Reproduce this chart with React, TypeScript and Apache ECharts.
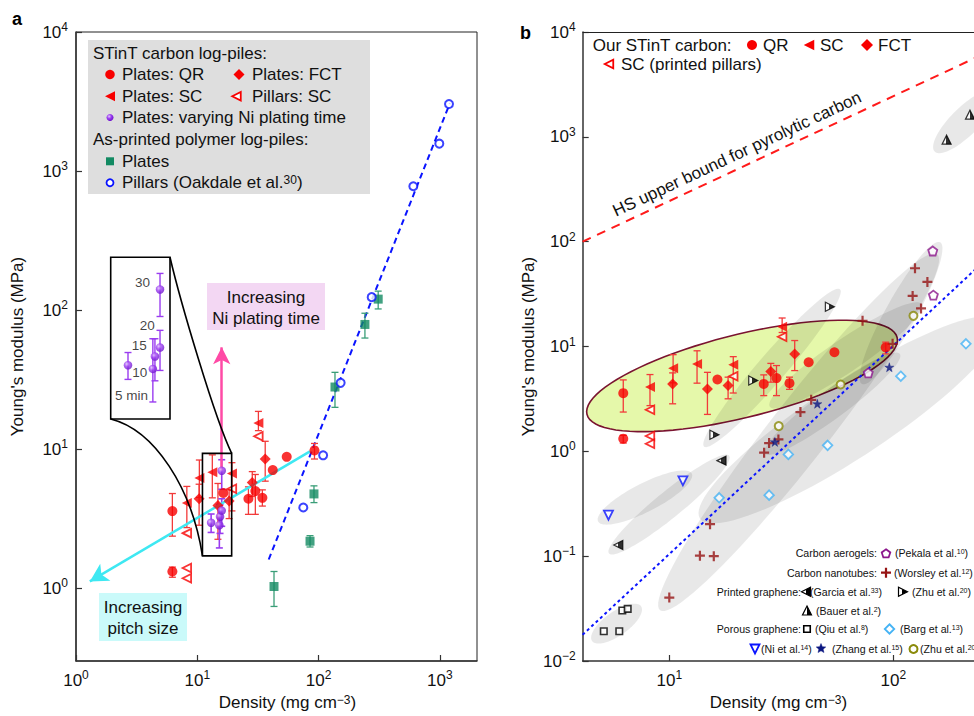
import React, { useEffect, useRef } from 'react';
import * as echarts from 'echarts';

// ---------------- data (density in mg cm^-3, modulus in MPa) ----------------
// STinT carbon log-piles (shown in both panels)
const QR_DENSITY = [6.23, 6.23, 16.4, 26.4, 30.1, 34.4, 41.9, 54.6, 92.5];
const QR_MODULUS = [3.59, 1.32, 4.84, 4.4, 5.0, 4.47, 7.08, 8.81, 9.8];
const QR_ERR_LOW = [2.37, 1.2, null, 3.4, 3.4, 3.9, null, null, 8.5];
const QR_ERR_HIGH = [4.8, 1.42, null, 5.36, 6.58, 5.1, null, null, 11.0];

const SC_DENSITY = [8.2, 10.4, 13.3, 19.3, 31.9];
const SC_MODULUS = [4.1, 6.2, 6.82, 6.7, 15.4];
const SC_ERR_LOW = [2.73, 4.5, 4.47, 3.6, 13.6];
const SC_ERR_HIGH = [5.4, 8.36, 9.1, 8.0, 18.7];

const FCT_DENSITY = [10.35, 14.8, 18.3, 28.4, 36.3];
const FCT_MODULUS = [4.4, 3.94, 4.24, 5.76, 8.49];
const FCT_ERR_LOW = [2.84, 2.25, 3.17, 4.57, 5.89];
const FCT_ERR_HIGH = [5.6, 5.67, 5.1, 6.9, 11.4];

const PILLAR_SC_DENSITY = [8.2, 8.2, 8.2, 19.3, 31.9];
const PILLAR_SC_MODULUS = [2.49, 1.4, 1.18, 5.2, 12.4];

const NI_TIME_LABELS = ['5 min', '10', '15', '20', '30'];
const NI_DENSITY = [13.0, 15.2, 15.4, 15.9, 15.9];
const NI_MODULUS = [2.96, 2.84, 3.27, 3.62, 7.0];
const NI_ERR_LOW = [2.52, 1.95, 2.48, 2.79, 5.15];
const NI_ERR_HIGH = [3.42, 4.0, 4.0, 4.4, 8.4];

// As-printed polymer log-piles
const POLY_PLATE_DENSITY = [42.9, 85, 91.6, 136.5, 241, 310];
const POLY_PLATE_MODULUS = [1.03, 2.18, 4.77, 28.0, 78.9, 120];
const POLY_PLATE_ERR_LOW = [0.74, 1.98, 4.13, 20, 63, 102];
const POLY_PLATE_ERR_HIGH = [1.32, 2.39, 5.45, 35.7, 95, 137];

const OAKDALE_DENSITY = [74.8, 109, 152, 274, 604, 989, 1189];
const OAKDALE_MODULUS = [3.81, 9.04, 30, 124, 778, 1574, 3034];
const OAKDALE_FIT_DENSITY = [38.8, 1211];
const OAKDALE_FIT_MODULUS = [1.61, 3083];

// annotation arrows (panel a)
const PITCH_ARROW_DENSITY = [84.9, 1.3];
const PITCH_ARROW_MODULUS = [9.64, 1.12];
const NI_ARROW_DENSITY = [15.9, 15.9];
const NI_ARROW_MODULUS = [7.0, 54];

// zoomed window (panel a) and inset ranges
const ZOOM_BOX_DENSITY = [11.03, 19.2];
const ZOOM_BOX_MODULUS = [1.71, 9.33];
const INSET_DENSITY_RANGE = [11.66, 16.93];
const INSET_MODULUS_RANGE = [1.607, 10.09];

// Panel b literature data
const PEKALA_DENSITY = [77.3, 151, 150];
const PEKALA_MODULUS = [5.6, 30.9, 81.5];
const WORSLEY_DENSITY = [10, 13.7, 15.8, 15.2, 26.5, 27.9, 30.7, 38.5, 43, 72.9, 99.3, 122, 133, 142, 125];
const WORSLEY_MODULUS = [0.0403, 0.101, 0.1, 0.202, 0.97, 1.2, 1.3, 2.37, 3.1, 17.6, 10.6, 30.4, 23.1, 41.3, 55.8];
const GARCIA_DENSITY = [5.92, 17.1];
const GARCIA_MODULUS = [0.128, 0.815];
const ZHU_PRINTED_DENSITY = [15.9, 23.7, 52.1];
const ZHU_PRINTED_MODULUS = [1.44, 4.73, 23.9];
const BAUER_DENSITY = [173, 220];
const BAUER_MODULUS = [940, 1626];
const QIU_DENSITY = [5.1, 5.98, 6.17, 6.52];
const QIU_MODULUS = [0.0192, 0.0192, 0.0303, 0.0314];
const BARG_DENSITY = [16.7, 27.9, 34, 50.9, 108, 211];
const BARG_MODULUS = [0.36, 0.382, 0.935, 1.14, 5.21, 10.6];
const NI_REF_DENSITY = [5.35, 11.5];
const NI_REF_MODULUS = [0.246, 0.523];
const ZHANG_DENSITY = [29.6, 45.8, 96];
const ZHANG_MODULUS = [1.23, 2.84, 6.34];
const ZHU_POROUS_DENSITY = [30.8, 58.2, 123];
const ZHU_POROUS_MODULUS = [1.74, 4.34, 19.6];

// Hashin-Shtrikman bound and E ~ rho^2 guide line (endpoints)
const HS_DENSITY = [4.1, 400];
const HS_MODULUS = [100, 9760];
const SCALING_DENSITY = [4.1, 400];
const SCALING_MODULUS = [0.0178, 160];

// shaded regions of panel b: major-axis end points and width ratio
const REGION_FROM_DENSITY = [4.52, 4.81, 5.38, 14.3, 9.09, 13.7, 72.4, 28.1, 26.7, 153];
const REGION_FROM_MODULUS = [0.0155, 0.214, 0.106, 1.108, 0.0305, 0.229, 4.4, 2.66, 0.95, 723];
const REGION_TO_DENSITY = [7.48, 12.6, 18.5, 57.8, 157, 299, 162, 134, 107, 284];
const REGION_TO_MODULUS = [0.0333, 0.614, 0.91, 35.2, 75.9, 17.5, 98.6, 25.4, 8.5, 2692];
const REGION_WIDTH = [0.4, 0.27, 0.17, 0.135, 0.13, 0.21, 0.19, 0.18, 0.17, 0.33];
const STINT_REGION_DENSITY = [4.29, 104];
const STINT_REGION_MODULUS = [2.25, 12.2];
const STINT_REGION_WIDTH = [0.26];

// axis ticks (log10 exponents)
const A_X_TICKS = [0, 1, 2, 3];
const A_Y_TICKS = [0, 1, 2, 3, 4];
const B_X_TICKS = [1, 2];
const B_Y_TICKS = [-2, -1, 0, 1, 2, 3, 4];

// ---------------- styling ----------------
const FONT = '"Liberation Sans", Arial, Helvetica, sans-serif';
const RED = '#f80000';
const RED_ERR = '#f23a3a';
const GREEN = '#128a62';
const BLUE = '#0a14ff';
const CNT_RED = '#961414';
const NAVY = '#0b1680';
const OLIVE = '#8a8a0a';
const LIGHTBLUE = '#45b3f5';
const PEKALA_C = '#8c168c';

const lg = (v: number) => Math.log10(v);
const pts = (D: number[], E: number[]) => D.map((d, i) => [lg(d), lg(E[i])]);

const SYM: any = {
  triLeft: 'path://M0,5L10,0L10,10Z',
  triRight: 'path://M10,5L0,0L0,10Z',
  triDown: 'path://M0,0L10,0L5,10Z',
  triUp: 'path://M5,0L10,10L0,10Z',
  pentagon: 'path://M5,0L10,3.8L8.1,10L1.9,10L0,3.8Z',
  star: 'path://M5,0L6.2,3.6L10,3.6L6.9,5.8L8.1,9.5L5,7.3L1.9,9.5L3.1,5.8L0,3.6L3.8,3.6Z',
  cross: 'path://M3.9,0H6.1V3.9H10V6.1H6.1V10H3.9V6.1H0V3.9H3.9Z',
};

const halfFill = (split: number) =>
  new echarts.graphic.LinearGradient(0, 0, 1, 0, [
    { offset: 0, color: '#ffffff' },
    { offset: split, color: '#ffffff' },
    { offset: split, color: '#000000' },
    { offset: 1, color: '#000000' },
  ]);

const purpleBall = () =>
  new echarts.graphic.RadialGradient(0.38, 0.35, 0.7, [
    { offset: 0, color: '#e4c4ff' },
    { offset: 0.45, color: '#9a3cf0' },
    { offset: 1, color: '#6a10c8' },
  ]);

const expLabel = (v: number) => {
  const n = Math.round(v);
  return '{b|10}{s|' + (n < 0 ? '\u2212' + -n : String(n)) + '}';
};
const TICK_RICH = {
  b: { fontSize: 17, fontFamily: FONT, color: '#111', lineHeight: 22 },
  s: { fontSize: 12, fontFamily: FONT, color: '#111', verticalAlign: 'top', lineHeight: 14 },
};
const NAME_RICH = {
  s: { fontSize: 12, fontFamily: FONT, color: '#111', verticalAlign: 'top', lineHeight: 12 },
};

function axis(gridIndex: number, min: number, max: number, ticks: number[] | null, extra: any = {}) {
  const show = ticks !== null;
  return {
    type: 'value',
    gridIndex,
    min,
    max,
    show,
    axisLine: { show, onZero: false, lineStyle: { color: '#333', width: 1.5 } },
    axisTick: { show, inside: true, length: 6, customValues: ticks || [], lineStyle: { color: '#333', width: 1.2 } },
    axisLabel: { show, customValues: ticks || [], formatter: expLabel, rich: TICK_RICH, margin: 8 },
    splitLine: { show: false },
    ...extra,
  };
}

function errSeries(D: number[], LO: any[], HI: any[], color: string, axisIdx: number, capW = 7, lw = 1.3, z = 3) {
  const data: any[] = [];
  D.forEach((d, i) => {
    if (LO[i] != null) data.push([lg(d), lg(LO[i]), lg(HI[i])]);
  });
  return {
    type: 'custom',
    xAxisIndex: axisIdx,
    yAxisIndex: axisIdx,
    silent: true,
    z,
    encode: { x: 0, y: [1, 2] },
    data,
    renderItem: (params: any, api: any) => {
      const x = api.value(0);
      const p1 = api.coord([x, api.value(1)]);
      const p2 = api.coord([x, api.value(2)]);
      const style = { stroke: color, lineWidth: lw, fill: null };
      const h = capW / 2;
      return {
        type: 'group',
        children: [
          { type: 'line', shape: { x1: p1[0], y1: p1[1], x2: p2[0], y2: p2[1] }, style },
          { type: 'line', shape: { x1: p1[0] - h, y1: p1[1], x2: p1[0] + h, y2: p1[1] }, style },
          { type: 'line', shape: { x1: p2[0] - h, y1: p2[1], x2: p2[0] + h, y2: p2[1] }, style },
        ],
      };
    },
  };
}

function regionSeries(FD: number[], FE: number[], TD: number[], TE: number[], W: number[], style: any, z: number) {
  return {
    type: 'custom',
    xAxisIndex: 1,
    yAxisIndex: 1,
    silent: true,
    z,
    clip: true,
    encode: { x: [0, 2], y: [1, 3] },
    data: FD.map((d, i) => [lg(d), lg(FE[i]), lg(TD[i]), lg(TE[i]), W[i]]),
    renderItem: (params: any, api: any) => {
      const p1 = api.coord([api.value(0), api.value(1)]);
      const p2 = api.coord([api.value(2), api.value(3)]);
      const cx = (p1[0] + p2[0]) / 2;
      const cy = (p1[1] + p2[1]) / 2;
      const a = Math.hypot(p2[0] - p1[0], p2[1] - p1[1]) / 2;
      const b = a * api.value(4);
      const ang = Math.atan2(p2[1] - p1[1], p2[0] - p1[0]);
      const points: number[][] = [];
      for (let k = 0; k < 90; k++) {
        const t = (2 * Math.PI * k) / 90;
        const ex = a * Math.cos(t);
        const ey = b * Math.sin(t);
        points.push([cx + ex * Math.cos(ang) - ey * Math.sin(ang), cy + ex * Math.sin(ang) + ey * Math.cos(ang)]);
      }
      return { type: 'polygon', shape: { points }, style };
    },
  };
}

function scatter(D: number[], E: number[], axisIdx: number, symbol: string, size: any, itemStyle: any, z = 5, extra: any = {}) {
  return {
    type: 'scatter',
    xAxisIndex: axisIdx,
    yAxisIndex: axisIdx,
    data: pts(D, E),
    symbol,
    symbolSize: size,
    itemStyle,
    silent: true,
    z,
    ...extra,
  };
}

function lineSeries(D: number[], E: number[], axisIdx: number, lineStyle: any, z = 2) {
  return {
    type: 'line',
    xAxisIndex: axisIdx,
    yAxisIndex: axisIdx,
    data: pts(D, E),
    showSymbol: false,
    symbol: 'none',
    silent: true,
    lineStyle,
    z,
  };
}

function arrowSeries(D: number[], E: number[], color: string, width: number, headSize: number[], z = 2) {
  const p = pts(D, E);
  return {
    type: 'line',
    xAxisIndex: 0,
    yAxisIndex: 0,
    data: p,
    showSymbol: false,
    symbol: 'none',
    silent: true,
    lineStyle: { opacity: 0 },
    z,
    markLine: {
      silent: true,
      symbol: ['none', 'arrow'],
      symbolSize: headSize,
      label: { show: false },
      lineStyle: { color, width, type: 'solid' },
      data: [[{ coord: p[0] }, { coord: p[1] }]],
    },
  };
}

// ---------- graphic helpers ----------
function gsym(kind: string, x: number, y: number, s: number, fill: any, stroke: any, lw = 1.5) {
  const h = s / 2;
  const style = { fill, stroke, lineWidth: lw };
  if (kind === 'circle') return { type: 'circle', shape: { cx: x, cy: y, r: h }, style, z: 30 };
  if (kind === 'square') return { type: 'rect', shape: { x: x - h, y: y - h, width: s, height: s }, style, z: 30 };
  let p: number[][] = [];
  if (kind === 'diamond') p = [[x, y - h], [x + h, y], [x, y + h], [x - h, y]];
  if (kind === 'triLeft') p = [[x - h, y], [x + h, y - h], [x + h, y + h]];
  if (kind === 'triRight') p = [[x + h, y], [x - h, y - h], [x - h, y + h]];
  if (kind === 'triUp') p = [[x, y - h], [x + h, y + h], [x - h, y + h]];
  if (kind === 'triDown') p = [[x - h, y - h], [x + h, y - h], [x, y + h]];
  if (kind === 'pentagon' || kind === 'star') {
    const n = kind === 'star' ? 10 : 5;
    for (let k = 0; k < n; k++) {
      const a = -Math.PI / 2 + (2 * Math.PI * k) / n;
      const r = kind === 'star' && k % 2 === 1 ? h * 0.45 : h;
      p.push([x + r * Math.cos(a), y + r * Math.sin(a)]);
    }
  }
  if (kind === 'cross') {
    const t = s * 0.11;
    p = [[x - t, y - h], [x + t, y - h], [x + t, y - t], [x + h, y - t], [x + h, y + t], [x + t, y + t], [x + t, y + h], [x - t, y + h], [x - t, y + t], [x - h, y + t], [x - h, y - t], [x - t, y - t]];
  }
  return { type: 'polygon', shape: { points: p }, style, z: 30 };
}

function gtext(text: string, x: number, y: number, size: number, align = 'left', extra: any = {}) {
  return {
    type: 'text',
    x,
    y,
    z: 31,
    style: {
      text,
      x: 0,
      y: 0,
      fill: '#111',
      font: `${size}px ${FONT}`,
      align,
      verticalAlign: 'middle',
      rich: {
        s: { fontSize: Math.round(size * 0.68), fontFamily: FONT, fill: '#111', verticalAlign: 'top', lineHeight: Math.round(size * 0.7) },
      },
      ...(extra.style || {}),
    },
    ...(extra.el || {}),
  };
}

function staticGraphics() {
  const g: any[] = [];
  // panel letters
  g.push({ type: 'text', x: 12, y: 19, z: 31, style: { text: 'a', font: `bold 18px ${FONT}`, fill: '#000', verticalAlign: 'middle' } });
  g.push({ type: 'text', x: 520, y: 33, z: 31, style: { text: 'b', font: `bold 18px ${FONT}`, fill: '#000', verticalAlign: 'middle' } });
  // top frame line of panel b (its right side lies beyond the picture)
  g.push({ type: 'line', z: 29, shape: { x1: 582.7, y1: 32.5, x2: 974, y2: 32.5 }, style: { stroke: '#222', lineWidth: 1 } });

  // ----- panel a legend -----
  g.push({ type: 'rect', shape: { x: 88, y: 40, width: 282, height: 154 }, style: { fill: '#dedede' }, z: 25 });
  const r = [53.3, 74.5, 96.3, 117.5, 139.5, 161.3, 182.7];
  g.push(gtext('STinT carbon log-piles:', 93, r[0], 17));
  g.push(gsym('circle', 110, r[1], 9.5, RED, null));
  g.push(gtext('Plates: QR', 122, r[1], 17));
  g.push(gsym('diamond', 239, r[1], 11, RED, null));
  g.push(gtext('Plates: FCT', 252, r[1], 17));
  g.push(gsym('triLeft', 110, r[2], 10, RED, null));
  g.push(gtext('Plates: SC', 122, r[2], 17));
  g.push(gsym('triLeft', 236.5, r[2], 8.5, '#fff', RED, 1.8));
  g.push(gtext('Pillars: SC', 252, r[2], 17));
  g.push(gsym('circle', 110, r[3], 7, purpleBall(), null));
  g.push(gtext('Plates: varying Ni plating time', 122, r[3], 17));
  g.push(gtext('As-printed polymer log-piles:', 93, r[4], 17));
  g.push(gsym('square', 110, r[5], 8, GREEN, null));
  g.push(gtext('Plates', 122, r[5], 17));
  g.push(gsym('circle', 110, r[6], 7, '#fff', BLUE, 1.8));
  g.push(gtext('Pillars (Oakdale et al.{s|30})', 122, r[6], 17));

  // ----- panel a annotation boxes -----
  g.push({ type: 'rect', shape: { x: 207, y: 283, width: 118, height: 47 }, style: { fill: '#f3d7f3' }, z: 20 });
  g.push(gtext('Increasing', 266, 297, 17, 'center'));
  g.push(gtext('Ni plating time', 266, 318, 17, 'center'));
  g.push({ type: 'rect', shape: { x: 99, y: 593, width: 88, height: 48 }, style: { fill: '#cafafa' }, z: 20 });
  g.push(gtext('Increasing', 143, 607, 17, 'center'));
  g.push(gtext('pitch size', 143, 628.5, 17, 'center'));

  // ----- panel b top legend -----
  g.push(gtext('Our STinT carbon:', 592.7, 45, 17));
  g.push(gsym('circle', 752, 45, 10, RED, null));
  g.push(gtext('QR', 763, 45, 17));
  g.push(gsym('triLeft', 809, 45, 10.5, RED, null));
  g.push(gtext('SC', 820, 45, 17));
  g.push(gsym('diamond', 867, 45, 12, RED, null));
  g.push(gtext('FCT', 878, 45, 17));
  g.push(gsym('triLeft', 609, 64, 8.5, '#fff', RED, 1.8));
  g.push(gtext('SC (printed pillars)', 621, 64, 17));

  // HS label
  g.push(gtext('HS upper bound for pyrolytic carbon', 737, 154, 17, 'center', { el: { rotation: (25.1 * Math.PI) / 180 } }));

  // ----- panel b bottom-right legend -----
  const fs = 10.6;
  g.push(gtext('Carbon aerogels:', 877, 553.3, fs, 'right'));
  g.push(gsym('pentagon', 886, 553.8, 9, '#fff', PEKALA_C, 1.8));
  g.push(gtext('(Pekala et al.{s|10})', 895, 553.3, fs));
  g.push(gtext('Carbon nanotubes:', 877, 572.7, fs, 'right'));
  g.push(gsym('cross', 886, 572.7, 10, CNT_RED, null));
  g.push(gtext('(Worsley et al.{s|12})', 894, 573, fs));
  g.push(gtext('Printed graphene:', 801, 591.7, fs, 'right'));
  g.push(gsym('triLeft', 806, 591.7, 9, halfFill(0.5), '#000', 1.2));
  g.push(gtext('(Garcia et al.{s|33})', 810, 592, fs));
  g.push(gsym('triRight', 903, 591.7, 9, halfFill(0.35), '#000', 1.2));
  g.push(gtext('(Zhu et al.{s|20})', 912, 592, fs));
  g.push(gsym('triUp', 807, 610.5, 9, halfFill(0.45), '#000', 1.2));
  g.push(gtext('(Bauer et al.{s|2})', 816, 611, fs));
  g.push(gtext('Porous graphene:', 801, 629, fs, 'right'));
  g.push(gsym('square', 807, 629, 6.5, '#fff', '#000', 1.6));
  g.push(gtext('(Qiu et al.{s|8})', 815, 629.3, fs));
  g.push(gsym('diamond', 889.5, 629, 9.5, '#fff', LIGHTBLUE, 1.8));
  g.push(gtext('(Barg et al.{s|13})', 900, 629.3, fs));
  g.push(gsym('triDown', 755, 649, 9, '#fff', BLUE, 1.8));
  g.push(gtext('(Ni et al.{s|14})', 761, 649.3, fs));
  g.push(gsym('star', 821, 648.5, 10, NAVY, NAVY, 0.5));
  g.push(gtext('(Zhang et al.{s|15})', 832, 649.3, fs));
  g.push(gsym('circle', 913.5, 649, 8, '#fff', OLIVE, 2));
  g.push(gtext('(Zhu et al.{s|20})', 920, 649.3, fs));
  return g;
}

const INSET_LABEL_OFFSETS = [[3.6, 30], [-13, 4], [-15.7, -11], [-12.7, -22.3], [-17.5, -6.6]];

function buildOption() {
  const series: any[] = [];
  // ---------- panel a ----------
  series.push(lineSeries(OAKDALE_FIT_DENSITY, OAKDALE_FIT_MODULUS, 0, { color: BLUE, width: 2, type: [6, 4] }));
  series.push(arrowSeries(PITCH_ARROW_DENSITY, PITCH_ARROW_MODULUS, '#3ee8f2', 2.5, [15, 18]));
  series.push(arrowSeries(NI_ARROW_DENSITY, NI_ARROW_MODULUS, '#ff4aa6', 2.5, [13, 17]));
  series.push(errSeries(QR_DENSITY, QR_ERR_LOW, QR_ERR_HIGH, RED_ERR, 0));
  series.push(errSeries(SC_DENSITY, SC_ERR_LOW, SC_ERR_HIGH, RED_ERR, 0));
  series.push(errSeries(FCT_DENSITY, FCT_ERR_LOW, FCT_ERR_HIGH, RED_ERR, 0));
  series.push(errSeries(POLY_PLATE_DENSITY, POLY_PLATE_ERR_LOW, POLY_PLATE_ERR_HIGH, '#3a9e78', 0));
  series.push(scatter(QR_DENSITY, QR_MODULUS, 0, 'circle', 10, { color: RED }));
  series.push(scatter(SC_DENSITY, SC_MODULUS, 0, SYM.triLeft, 10, { color: RED }));
  series.push(scatter(FCT_DENSITY, FCT_MODULUS, 0, 'diamond', 11, { color: RED }));
  series.push(scatter(PILLAR_SC_DENSITY, PILLAR_SC_MODULUS, 0, SYM.triLeft, 8.5, { color: '#fff', borderColor: RED, borderWidth: 1.8 }));
  series.push(scatter(POLY_PLATE_DENSITY, POLY_PLATE_MODULUS, 0, 'rect', 9, { color: GREEN }));
  series.push(scatter(OAKDALE_DENSITY, OAKDALE_MODULUS, 0, 'circle', 8, { color: '#fff', borderColor: BLUE, borderWidth: 2 }));
  series.push(errSeries(NI_DENSITY, NI_ERR_LOW, NI_ERR_HIGH, '#9a3cf0', 0, 7, 1.6));
  series.push(scatter(NI_DENSITY, NI_MODULUS, 0, 'circle', 8.5, { color: purpleBall() }, 6));

  // ---------- inset ----------
  series.push(errSeries(NI_DENSITY, NI_ERR_LOW, NI_ERR_HIGH, '#9a3cf0', 2, 7, 1.4, 7));
  series.push({
    type: 'scatter',
    xAxisIndex: 2,
    yAxisIndex: 2,
    silent: true,
    z: 8,
    symbol: 'circle',
    symbolSize: 8.5,
    itemStyle: { color: purpleBall() },
    data: NI_DENSITY.map((d, i) => ({
      value: [lg(d), lg(NI_MODULUS[i])],
      name: NI_TIME_LABELS[i],
      label: { offset: INSET_LABEL_OFFSETS[i] },
    })),
    label: { show: true, position: 'inside', formatter: '{b}', color: '#111', fontSize: 13.5, fontFamily: FONT, textBorderWidth: 0 },
  });

  // ---------- panel b ----------
  series.push(regionSeries(STINT_REGION_DENSITY.slice(0, 1), STINT_REGION_MODULUS.slice(0, 1), STINT_REGION_DENSITY.slice(1), STINT_REGION_MODULUS.slice(1), STINT_REGION_WIDTH, { fill: '#e5f8aa', stroke: '#7a1430', lineWidth: 1.6 }, 1));
  series.push(regionSeries(REGION_FROM_DENSITY, REGION_FROM_MODULUS, REGION_TO_DENSITY, REGION_TO_MODULUS, REGION_WIDTH, { fill: 'rgba(0,0,0,0.09)' }, 2));
  series.push(lineSeries(HS_DENSITY, HS_MODULUS, 1, { color: '#ff1a1a', width: 2, type: [9, 7] }, 3));
  series.push(lineSeries(SCALING_DENSITY, SCALING_MODULUS, 1, { color: BLUE, width: 2, type: [3, 3] }, 3));
  series.push(errSeries(QR_DENSITY, QR_ERR_LOW, QR_ERR_HIGH, RED_ERR, 1));
  series.push(errSeries(SC_DENSITY, SC_ERR_LOW, SC_ERR_HIGH, RED_ERR, 1));
  series.push(errSeries(FCT_DENSITY, FCT_ERR_LOW, FCT_ERR_HIGH, RED_ERR, 1));
  series.push(scatter(QIU_DENSITY, QIU_MODULUS, 1, 'rect', 6.5, { color: '#fff', borderColor: '#000', borderWidth: 1.6 }));
  series.push(scatter(NI_REF_DENSITY, NI_REF_MODULUS, 1, SYM.triDown, 9, { color: '#fff', borderColor: BLUE, borderWidth: 1.8 }));
  series.push(scatter(GARCIA_DENSITY, GARCIA_MODULUS, 1, SYM.triLeft, 9, { color: halfFill(0.5), borderColor: '#000', borderWidth: 1.2 }));
  series.push(scatter(ZHU_PRINTED_DENSITY, ZHU_PRINTED_MODULUS, 1, SYM.triRight, 9, { color: halfFill(0.35), borderColor: '#000', borderWidth: 1.2 }));
  series.push(scatter(BAUER_DENSITY, BAUER_MODULUS, 1, SYM.triUp, 9, { color: halfFill(0.45), borderColor: '#000', borderWidth: 1.2 }));
  series.push(scatter(BARG_DENSITY, BARG_MODULUS, 1, 'diamond', 9.5, { color: '#fff', borderColor: LIGHTBLUE, borderWidth: 1.8 }));
  series.push(scatter(WORSLEY_DENSITY, WORSLEY_MODULUS, 1, SYM.cross, 10, { color: CNT_RED }));
  series.push(scatter(ZHU_POROUS_DENSITY, ZHU_POROUS_MODULUS, 1, 'circle', 8, { color: '#fff', borderColor: OLIVE, borderWidth: 2 }));
  series.push(scatter(ZHANG_DENSITY, ZHANG_MODULUS, 1, SYM.star, 9, { color: NAVY, borderColor: NAVY, borderWidth: 0.5 }));
  series.push(scatter(PEKALA_DENSITY, PEKALA_MODULUS, 1, SYM.pentagon, 9, { color: '#fff', borderColor: PEKALA_C, borderWidth: 1.8 }));
  series.push(scatter(QR_DENSITY, QR_MODULUS, 1, 'circle', 10, { color: RED }, 6));
  series.push(scatter(SC_DENSITY, SC_MODULUS, 1, SYM.triLeft, 10, { color: RED }, 6));
  series.push(scatter(FCT_DENSITY, FCT_MODULUS, 1, 'diamond', 11, { color: RED }, 6));
  series.push(scatter(PILLAR_SC_DENSITY, PILLAR_SC_MODULUS, 1, SYM.triLeft, 8.5, { color: '#fff', borderColor: RED, borderWidth: 1.8 }, 6));

  const xName = 'Density (mg cm{s|\u22123})';
  const nameStyle = { fontSize: 17, fontFamily: FONT, color: '#111', rich: NAME_RICH };
  return {
    animation: false,
    textStyle: { fontFamily: FONT },
    grid: [
      { left: 76, top: 32, width: 401, height: 631, show: true, borderColor: '#222', borderWidth: 1, backgroundColor: 'transparent' },
      { left: 582.7, top: 32, width: 391.3, height: 630.7, show: false },
      { left: 110.7, top: 257.3, width: 59.3, height: 161.7, show: true, borderColor: '#000', borderWidth: 1.6, backgroundColor: '#fff' },
    ],
    xAxis: [
      axis(0, 0, 3.306, A_X_TICKS, { name: xName, nameLocation: 'middle', nameGap: 33, nameTextStyle: { ...nameStyle, padding: [0, 0, 0, 22] } }),
      axis(1, 0.6134, 2.3603, B_X_TICKS, { name: xName, nameLocation: 'middle', nameGap: 33, nameTextStyle: { ...nameStyle, padding: [0, 0, 0, 0] } }),
      axis(2, lg(INSET_DENSITY_RANGE[0]), lg(INSET_DENSITY_RANGE[1]), null),
    ],
    yAxis: [
      axis(0, -0.523, 4, A_Y_TICKS, { name: "Young's modulus (MPa)", nameLocation: 'middle', nameGap: 50, nameTextStyle: nameStyle }),
      axis(1, -2, 4, B_Y_TICKS, { name: "Young's modulus (MPa)", nameLocation: 'middle', nameGap: 46, nameTextStyle: nameStyle, axisLabel: { show: true, customValues: B_Y_TICKS, formatter: expLabel, rich: TICK_RICH, margin: 7 } }),
      axis(2, lg(INSET_MODULUS_RANGE[0]), lg(INSET_MODULUS_RANGE[1]), null),
    ],
    series,
  };
}

export default function App() {
  const ref = useRef<HTMLDivElement>(null);
  useEffect(() => {
    if (!ref.current) return;
    const chart = echarts.init(ref.current, undefined, { renderer: 'svg' });
    chart.setOption(buildOption() as any);
    // zoom window and connectors derived from the axes' own scales
    const tl = chart.convertToPixel({ gridIndex: 0 } as any, [lg(ZOOM_BOX_DENSITY[0]), lg(ZOOM_BOX_MODULUS[1])]) as any;
    const br = chart.convertToPixel({ gridIndex: 0 } as any, [lg(ZOOM_BOX_DENSITY[1]), lg(ZOOM_BOX_MODULUS[0])]) as any;
    const itr = chart.convertToPixel({ gridIndex: 2 } as any, [lg(INSET_DENSITY_RANGE[1]), lg(INSET_MODULUS_RANGE[1])]) as any;
    const ibl = chart.convertToPixel({ gridIndex: 2 } as any, [lg(INSET_DENSITY_RANGE[0]), lg(INSET_MODULUS_RANGE[0])]) as any;
    const lineStyle = { stroke: '#000', lineWidth: 1.6, fill: null };
    const dyn: any[] = [
      { type: 'rect', z: 28, shape: { x: tl[0], y: tl[1], width: br[0] - tl[0], height: br[1] - tl[1] }, style: { fill: null, stroke: '#000', lineWidth: 1.6 } },
      {
        type: 'bezierCurve', z: 28,
        shape: { x1: itr[0], y1: itr[1], cpx1: itr[0] + 10, cpy1: itr[1] + 43, cpx2: br[0] - 17, cpy2: tl[1] - 35, x2: br[0], y2: tl[1] },
        style: lineStyle,
      },
      {
        type: 'bezierCurve', z: 28,
        shape: { x1: ibl[0], y1: ibl[1], cpx1: ibl[0] + 44, cpy1: ibl[1] + 11, cpx2: tl[0] - 10.5, cpy2: br[1] - 67.7, x2: tl[0], y2: br[1] },
        style: lineStyle,
      },
    ];
    chart.setOption({ graphic: [...staticGraphics(), ...dyn] } as any);
    return () => chart.dispose();
  }, []);
  return <div ref={ref} style={{ position: 'absolute', left: 0, top: 0, width: 974, height: 716, background: '#fff' }} />;
}
